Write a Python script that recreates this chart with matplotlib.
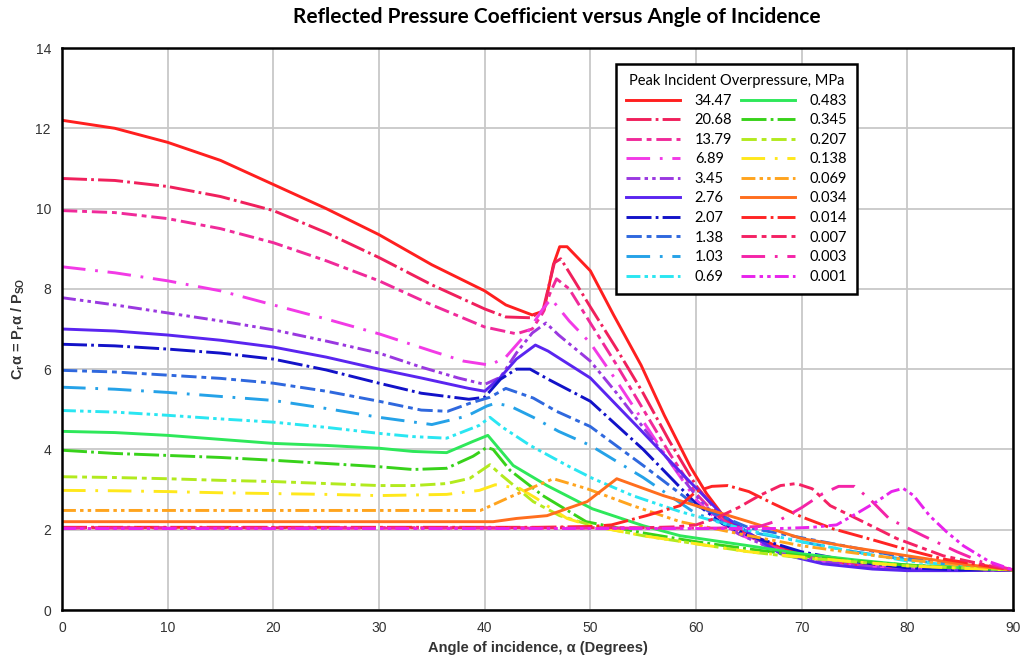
import numpy as np
import matplotlib
matplotlib.use("Agg")
from matplotlib import pyplot as plt

plt.rcParams['lines.scale_dashes'] = False
plt.rcParams['mathtext.default'] = 'regular'

# 数据: 入射角 (度) 与 反射压力系数, 每条曲线一组
labels = ['34.47', '20.68', '13.79', '6.89', '3.45', '2.76', '2.07', '1.38', '1.03', '0.69',
          '0.483', '0.345', '0.207', '0.138', '0.069', '0.034', '0.014', '0.007', '0.003', '0.001']

a_3447 = [0, 5, 10, 15, 20, 25, 30, 35, 40, 42, 44.5, 45.6, 46.5, 47.1, 47.8, 50, 52.2, 54.8, 57, 59.5, 61, 63, 65, 68, 72, 76, 80, 85, 90]
c_3447 = [12.2, 12.0, 11.65, 11.2, 10.6, 10.0, 9.35, 8.6, 7.95, 7.6, 7.35, 7.45, 8.6, 9.05, 9.05, 8.45, 7.35, 6.1, 4.85, 3.55, 2.9, 2.2, 1.9, 1.55, 1.25, 1.08, 1.02, 1.0, 1.0]
a_2068 = [0, 5, 10, 15, 20, 25, 30, 35, 40, 42, 44.3, 45.5, 46.6, 47.2, 48.5, 50, 52.5, 55, 57.5, 60, 62, 64, 67, 70, 75, 80, 85, 90]
c_2068 = [10.75, 10.7, 10.55, 10.3, 9.95, 9.4, 8.78, 8.1, 7.5, 7.3, 7.28, 7.45, 8.65, 8.75, 8.2, 7.55, 6.5, 5.4, 4.2, 3.1, 2.45, 2.0, 1.6, 1.35, 1.12, 1.02, 1.0, 1.0]
a_1379 = [0, 5, 10, 15, 20, 25, 30, 35, 40, 43, 44.5, 45.5, 46.2, 46.8, 48, 50, 52.5, 55, 57.5, 60, 62, 64, 67, 70, 75, 80, 85, 90]
c_1379 = [9.95, 9.9, 9.75, 9.5, 9.15, 8.7, 8.2, 7.6, 7.05, 6.88, 7.0, 7.4, 7.9, 8.25, 8.0, 7.15, 6.1, 5.0, 3.9, 2.9, 2.35, 1.95, 1.6, 1.35, 1.12, 1.02, 1.0, 1.0]
a_689 = [0, 5, 10, 15, 20, 25, 30, 35, 38, 40.5, 42, 44, 45.5, 46.3, 48, 50, 52.5, 55, 57.5, 60, 62, 64, 67, 70, 75, 80, 85, 90]
c_689 = [8.55, 8.4, 8.2, 7.95, 7.6, 7.25, 6.88, 6.45, 6.2, 6.1, 6.3, 6.9, 7.5, 7.75, 7.2, 6.65, 5.7, 4.7, 3.7, 2.75, 2.25, 1.9, 1.55, 1.3, 1.1, 1.02, 1.0, 1.0]
a_345 = [0, 5, 10, 15, 20, 25, 30, 34, 37.5, 40, 41.5, 43, 44.5, 45.8, 47, 50, 52.5, 55, 57.5, 60, 62, 64, 67, 70, 75, 80, 85, 90]
c_345 = [7.78, 7.6, 7.4, 7.2, 6.98, 6.7, 6.4, 6.05, 5.78, 5.62, 5.8, 6.4, 6.9, 7.15, 6.85, 6.2, 5.4, 4.55, 3.7, 2.85, 2.3, 1.9, 1.55, 1.3, 1.1, 1.02, 1.0, 1.0]
a_276 = [0, 5, 10, 15, 20, 25, 30, 34, 38.5, 40, 41.5, 43, 44.8, 46, 50, 54.7, 59.4, 62.6, 65.8, 68, 72, 76.7, 80, 85, 90]
c_276 = [7.0, 6.95, 6.85, 6.72, 6.55, 6.3, 6.0, 5.78, 5.52, 5.45, 5.8, 6.25, 6.6, 6.45, 5.78, 4.5, 3.2, 2.35, 1.78, 1.4, 1.15, 1.02, 0.98, 0.98, 1.0]
a_207 = [0, 5, 10, 15, 20, 25, 30, 34, 38.5, 40, 41.5, 43, 44.3, 46, 50, 55, 60, 62.5, 65, 70, 75, 80, 85, 90]
c_207 = [6.62, 6.58, 6.5, 6.4, 6.25, 5.98, 5.65, 5.4, 5.25, 5.3, 5.75, 6.0, 6.0, 5.75, 5.2, 4.0, 2.65, 2.15, 1.85, 1.45, 1.2, 1.05, 1.0, 1.0]
a_138 = [0, 5, 10, 15, 20, 25, 30, 34, 36.5, 38.6, 40.5, 42, 44.6, 46.8, 50, 55, 60, 65, 70, 75, 80, 85, 90]
c_138 = [5.97, 5.93, 5.85, 5.77, 5.65, 5.45, 5.2, 4.98, 4.95, 5.15, 5.3, 5.52, 5.28, 4.95, 4.57, 3.6, 2.6, 2.05, 1.8, 1.55, 1.3, 1.12, 1.0]
a_103 = [0, 5, 10, 15, 20, 25, 30, 35, 38.3, 40.2, 41, 42.4, 44.6, 47, 50, 55, 60, 65, 70, 75, 80, 85, 90]
c_103 = [5.55, 5.5, 5.42, 5.32, 5.22, 5.02, 4.8, 4.62, 4.83, 5.08, 5.15, 5.08, 4.8, 4.45, 4.1, 3.3, 2.4, 1.95, 1.7, 1.45, 1.25, 1.1, 1.0]
a_069 = [0, 5, 10, 15, 20, 25, 30, 33.2, 36.4, 39.5, 40.5, 41.7, 44.3, 47.8, 50.2, 54, 58.5, 65, 70, 75, 80, 85, 90]
c_069 = [4.97, 4.93, 4.85, 4.76, 4.68, 4.55, 4.4, 4.32, 4.28, 4.6, 4.8, 4.55, 4.1, 3.6, 3.28, 2.85, 2.45, 1.98, 1.7, 1.45, 1.22, 1.1, 1.0]
a_0483 = [0, 5, 10, 15, 20, 25, 30, 33.2, 36.4, 38.9, 40.3, 42.7, 45.9, 50.2, 55, 58.5, 65, 70, 75, 80, 85, 90]
c_0483 = [4.45, 4.42, 4.35, 4.25, 4.15, 4.1, 4.03, 3.95, 3.92, 4.2, 4.35, 3.6, 3.1, 2.52, 2.1, 1.85, 1.6, 1.4, 1.25, 1.12, 1.05, 1.0]
a_0345 = [0, 5, 10, 15, 20, 25, 30, 33.2, 36.4, 38.9, 40.2, 40.8, 42.4, 45.5, 49.6, 55, 60, 65, 70, 75, 80, 85, 90]
c_0345 = [3.98, 3.9, 3.85, 3.8, 3.73, 3.65, 3.57, 3.5, 3.53, 3.83, 4.05, 4.0, 3.48, 2.85, 2.2, 1.92, 1.7, 1.52, 1.35, 1.22, 1.12, 1.05, 1.0]
a_0207 = [0, 5, 10, 15, 20, 25, 30, 33.2, 36.4, 38.6, 40.5, 41.4, 44.6, 47.1, 50.2, 55, 60, 65, 70, 75, 80, 85, 90]
c_0207 = [3.32, 3.3, 3.27, 3.23, 3.2, 3.15, 3.1, 3.1, 3.15, 3.28, 3.62, 3.4, 2.7, 2.35, 2.1, 1.85, 1.65, 1.45, 1.3, 1.2, 1.1, 1.05, 1.0]
a_0138 = [0, 5, 10, 15, 20, 25, 30, 36.4, 39.5, 41, 43.3, 44.9, 45.9, 47.8, 50, 55, 60, 65, 70, 75, 80, 85, 90]
c_0138 = [2.98, 2.97, 2.95, 2.92, 2.9, 2.88, 2.85, 2.88, 2.98, 3.12, 3.03, 2.78, 2.6, 2.28, 2.1, 1.85, 1.65, 1.45, 1.32, 1.2, 1.1, 1.04, 1.0]
a_0069 = [0, 10, 20, 30, 39.6, 42.7, 46.5, 49.7, 54, 58.5, 65, 70, 75, 80, 85, 90]
c_0069 = [2.48, 2.48, 2.48, 2.48, 2.48, 2.85, 3.27, 3.02, 2.6, 2.2, 1.85, 1.6, 1.42, 1.25, 1.12, 1.0]
a_0034 = [0, 10, 20, 30, 40.8, 43, 45.9, 49.7, 52.5, 56.9, 60, 65, 70, 75, 80, 85, 90]
c_0034 = [2.2, 2.2, 2.2, 2.2, 2.2, 2.28, 2.35, 2.7, 3.27, 2.85, 2.6, 2.2, 1.78, 1.55, 1.35, 1.15, 1.0]
a_0014 = [0, 20, 45, 50, 52, 55.3, 58.5, 60, 61.5, 63, 65, 67.3, 70, 73, 76.7, 80, 83.4, 87, 90]
c_0014 = [2.06, 2.06, 2.06, 2.08, 2.12, 2.35, 2.6, 2.95, 3.08, 3.1, 2.95, 2.65, 2.32, 2.02, 1.75, 1.5, 1.27, 1.12, 1.0]
a_0007 = [0, 20, 55, 58, 60, 62, 64, 66, 68, 69.5, 71, 72.7, 75.8, 79, 83.4, 87.8, 90]
c_0007 = [2.05, 2.05, 2.05, 2.07, 2.12, 2.3, 2.55, 2.85, 3.1, 3.15, 3.02, 2.6, 2.2, 1.78, 1.35, 1.1, 1.0]
a_0003 = [0, 20, 62, 66, 68, 70, 72, 73.5, 75, 76.5, 78.3, 81.5, 84.7, 87, 90]
c_0003 = [2.04, 2.04, 2.04, 2.08, 2.25, 2.55, 2.9, 3.08, 3.08, 2.75, 2.27, 1.85, 1.45, 1.2, 1.0]
a_0001 = [0, 20, 68, 71, 73.3, 75.5, 77.1, 78.5, 79.6, 80.6, 82.1, 83.7, 85.3, 87.8, 90]
c_0001 = [2.03, 2.03, 2.03, 2.06, 2.12, 2.45, 2.7, 2.95, 3.03, 2.85, 2.35, 1.95, 1.6, 1.2, 1.0]

angles = [a_3447, a_2068, a_1379, a_689, a_345, a_276, a_207, a_138, a_103, a_069,
          a_0483, a_0345, a_0207, a_0138, a_0069, a_0034, a_0014, a_0007, a_0003, a_0001]
coefs = [c_3447, c_2068, c_1379, c_689, c_345, c_276, c_207, c_138, c_103, c_069,
         c_0483, c_0345, c_0207, c_0138, c_0069, c_0034, c_0014, c_0007, c_0003, c_0001]

colors = ['#ff1f1f', '#f0205c', '#f02a9a', '#f23ae6', '#9a38e0', '#5a25f0', '#1212c8', '#2f68de', '#25a2e8', '#2ae6f2',
          '#2ee85a', '#38d21a', '#b2ea1e', '#ffe81c', '#ffa41e', '#ff6e1e', '#ff2424', '#f42264', '#f424a8', '#e823ec']

# 线型: 实线, 长-短, 长-短-短, 长-空-短, 点划线
styles = ['-', (0, (18, 3, 2, 3)), (0, (11, 3.5, 3.5, 3.5)), (0, (17, 7, 2, 7)), (0, (10, 3, 2.5, 3, 2.5, 3))]

fig = plt.figure(figsize=(10.24, 6.58), dpi=100)
ax = fig.add_axes([62 / 1024, 1 - 610 / 658, 951 / 1024, 562 / 658])

for i in range(len(labels)):
    ax.plot(angles[i], coefs[i], color=colors[i], lw=2.1, ls=styles[i % 5], label=labels[i],
            solid_joinstyle='round', dash_capstyle='butt')

ax.set_xlim(0, 90)
ax.set_ylim(0, 14)
ax.set_xticks(np.arange(0, 91, 10))
ax.set_yticks(np.arange(0, 15, 2))
ax.grid(True, color='#c8c8c8', lw=1.3)
ax.set_axisbelow(True)
for s in ax.spines.values():
    s.set_linewidth(1.8)
    s.set_color('black')
ax.tick_params(length=0, labelsize=10, labelcolor='#333333')
ax.tick_params(axis='x', pad=8)
ax.tick_params(axis='y', pad=8)
for t in ax.get_xticklabels() + ax.get_yticklabels():
    t.set_fontfamily('Liberation Sans')

ax.set_xlabel('Angle of incidence, α (Degrees)', fontsize=10.5, fontweight='bold',
              family='Liberation Sans', color='#333333', labelpad=4)
ax.set_ylabel('C$_r$α = P$_r$α / P$_{SO}$', fontsize=10.5, fontweight='bold',
              family='Liberation Sans', color='#333333', labelpad=6)

fig.text(557 / 1024, 1 - 17 / 658, 'Reflected Pressure Coefficient versus Angle of Incidence',
         ha='center', va='center', fontsize=15, fontweight='bold', family='Lato')

leg = ax.legend(ncol=2, loc='upper left', bbox_to_anchor=((616 - 62) / 951, (610 - 64) / 562),
                borderaxespad=0, title='Peak Incident Overpressure, MPa', fancybox=False,
                edgecolor='black', framealpha=1, handlelength=3.7, labelspacing=0.38,
                columnspacing=0.6, handletextpad=1.0, borderpad=0.7,
                prop={'family': 'Lato', 'size': 10.5}, title_fontproperties={'family': 'Lato', 'size': 10.5})
leg.get_frame().set_linewidth(1.8)

plt.savefig('out.png', dpi=100)
